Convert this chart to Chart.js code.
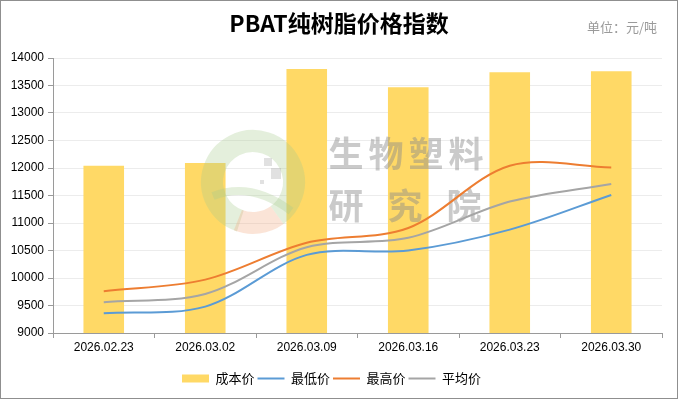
<!DOCTYPE html>
<html><head><meta charset="utf-8">
<script src="https://cdn.jsdelivr.net/npm/chart.js@4/dist/chart.umd.min.js"></script>
<style>
html,body{margin:0;padding:0;background:#fff;}
#wrap{width:678px;height:399px;box-sizing:border-box;border:1px solid #8f8f8f;position:relative;background:#fff;}
canvas{display:block;}
</style></head><body>
<div id="wrap"><canvas id="c" width="676" height="397"></canvas></div>
<script>
const categories = ['2026.02.23', '2026.03.02', '2026.03.09', '2026.03.16', '2026.03.23', '2026.03.30'];
const costPrice = [12040, 12090, 13800, 13470, 13740, 13760];
const lowPrice  = [9360, 9480, 10420, 10500, 10880, 11510];
const highPrice = [9760, 9970, 10640, 10910, 12040, 12010];
const avgPrice  = [9560, 9710, 10560, 10730, 11390, 11710];
const seriesNames = ['成本价', '最低价', '最高价', '平均价'];
const yMin = 9000, yMax = 14000, yStep = 500;
const titleText = 'PBAT纯树脂价格指数';
const unitText = '单位：元/吨';
const watermarkLines = ['生物塑料', '研究院'];

const FONT = '"Liberation Sans", "Noto Sans CJK SC", sans-serif';
const CJK = '"Noto Sans CJK SC", "Liberation Sans", sans-serif';

const decor = {
  id: 'decor',
  afterDatasetDraw(chart, args) {
    if (args.index !== 0) return;
    const ctx = chart.ctx;
    ctx.save();
    // faint logo
    ctx.globalAlpha = 0.3;
    ctx.lineWidth = 22;
    ctx.strokeStyle = '#a6c98a';
    ctx.beginPath();
    ctx.arc(252, 181, 41, Math.PI * 0.6, Math.PI * 2.3);
    ctx.stroke();
    ctx.strokeStyle = '#f2a679';
    ctx.beginPath();
    ctx.arc(252, 181, 41, Math.PI * 0.3, Math.PI * 0.62);
    ctx.stroke();
    ctx.lineWidth = 8;
    ctx.strokeStyle = '#a6c98a';
    ctx.beginPath();
    ctx.moveTo(212, 195);
    ctx.quadraticCurveTo(250, 180, 290, 210);
    ctx.stroke();
    ctx.fillStyle = '#9a9a9a';
    ctx.fillRect(263, 157, 8, 8);
    ctx.fillRect(270, 167, 10, 11);
    ctx.fillRect(259, 179, 4, 4);
    ctx.globalAlpha = 0.45;
    ctx.fillStyle = '#8a8a8a';
    ctx.font = 'bold 35px ' + CJK;
    ctx.textBaseline = 'middle';
    ctx.textAlign = 'center';
    watermarkLines[0].split('').forEach((ch, i) => ctx.fillText(ch, 345 + i * 40, 153));
    watermarkLines[1].split('').forEach((ch, i) => ctx.fillText(ch, 345 + i * 59, 205));
    ctx.restore();
  },
  afterDraw(chart) {
    const ctx = chart.ctx;
    ctx.save();
    ctx.fillStyle = '#000';
    ctx.font = 'bold 23px ' + CJK;
    ctx.textAlign = 'center';
    ctx.textBaseline = 'middle';
    ctx.fillText(titleText, 338, 22);
    ctx.fillStyle = '#9a9a9a';
    ctx.font = '13px ' + CJK;
    ctx.textAlign = 'right';
    ctx.fillText(unitText, 656, 26);
    ctx.restore();
  }
};

new Chart(document.getElementById('c'), {
  type: 'bar',
  data: {
    labels: categories,
    datasets: [
      { type: 'bar', label: seriesNames[0], data: costPrice, backgroundColor: '#FFD966', borderWidth: 0,
        categoryPercentage: 1, barPercentage: 0.4, order: 2, pointStyle: 'rect' },
      { type: 'line', label: seriesNames[1], data: lowPrice, borderColor: '#5B9BD5', backgroundColor: '#5B9BD5',
        borderWidth: 2, pointRadius: 0, tension: 0.33, order: 1, pointStyle: 'line' },
      { type: 'line', label: seriesNames[2], data: highPrice, borderColor: '#ED7D31', backgroundColor: '#ED7D31',
        borderWidth: 2, pointRadius: 0, tension: 0.33, order: 1, pointStyle: 'line' },
      { type: 'line', label: seriesNames[3], data: avgPrice, borderColor: '#A5A5A5', backgroundColor: '#A5A5A5',
        borderWidth: 2, pointRadius: 0, tension: 0.33, order: 1, pointStyle: 'line' }
    ]
  },
  options: {
    responsive: false,
    animation: false,
    devicePixelRatio: 1,
    layout: { padding: { top: 57, left: 0, right: 15, bottom: 3 } },
    plugins: {
      title: { display: false },
      tooltip: { enabled: false },
      legend: {
        position: 'bottom',
        labels: {
          usePointStyle: true,
          pointStyleWidth: 27,
          boxHeight: 8,
          padding: 3,
          color: '#000',
          font: { family: CJK, size: 13 },
          sort: (a, b) => a.datasetIndex - b.datasetIndex
        }
      }
    },
    scales: {
      x: {
        offset: true,
        grid: { offset: true, drawOnChartArea: false, tickColor: '#9a9a9a', tickLength: 5 },
        border: { color: '#9a9a9a', width: 1 },
        ticks: { color: '#000', font: { family: FONT, size: 12 }, maxRotation: 0, padding: 2 },
        afterFit: s => { s.height = 36; }
      },
      y: {
        min: yMin, max: yMax,
        ticks: { stepSize: yStep, color: '#000', font: { family: FONT, size: 12 }, padding: 4,
          callback: v => String(v) },
        grid: { color: '#ececec', tickColor: '#9a9a9a', tickLength: 5 },
        border: { color: '#9a9a9a', width: 1 },
        afterFit: s => { s.width = 52; }
      }
    }
  },
  plugins: [decor]
});
</script>
</body></html>
